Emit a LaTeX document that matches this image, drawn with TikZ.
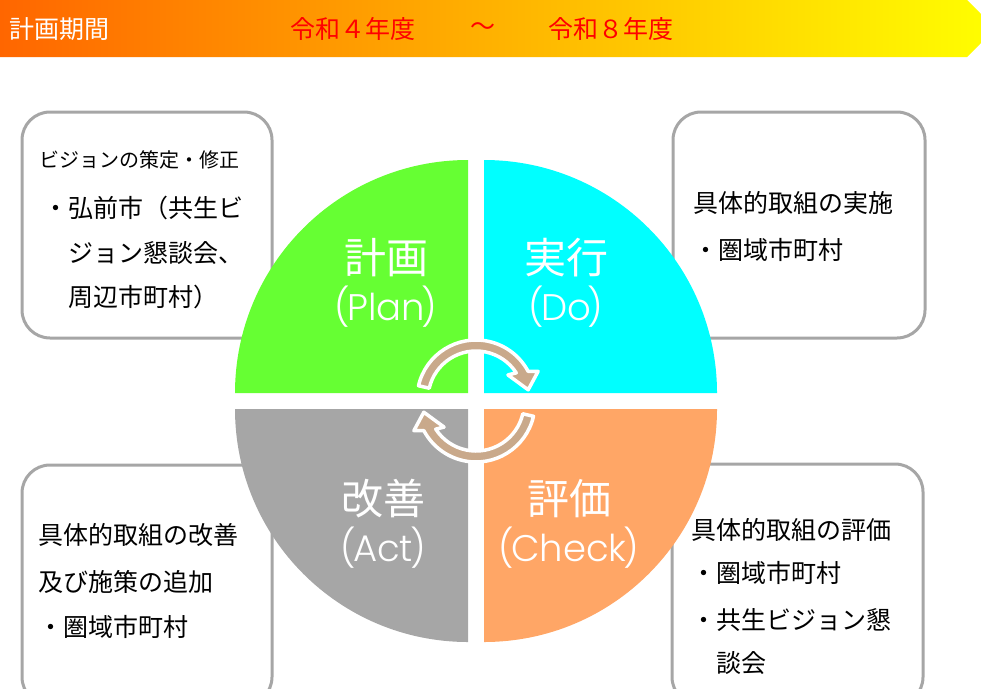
\documentclass[tikz,border=0pt]{standalone}
\usepackage{fontspec}
\newfontfamily\jp{Noto Sans CJK JP}
\newfontfamily\lat{Poppins Light}
\definecolor{qgreen}{RGB}{102,255,51}
\definecolor{qcyan}{RGB}{0,255,255}
\definecolor{qgray}{RGB}{166,166,166}
\definecolor{qorange}{RGB}{255,166,102}
\definecolor{boxline}{RGB}{166,166,166}
\definecolor{cyctan}{RGB}{201,169,139}
\definecolor{hdorange}{RGB}{255,102,0}
\definecolor{hdyellow}{RGB}{255,255,0}
\tikzset{
  infobox/.style={draw=boxline, line width=3pt, fill=white, rounded corners=28pt},
  boxtxt/.style={anchor=west, inner sep=0pt, font=\jp\fontsize{25}{30}\selectfont, text=black},
  smalltxt/.style={anchor=west, inner sep=0pt, font=\jp\fontsize{20}{24}\selectfont, text=black},
  qjp/.style={inner sep=0pt, font=\jp\fontsize{42}{46}\selectfont, text=white},
  qlat/.style={inner sep=0pt, font=\lat\fontsize{37}{40}\selectfont, text=white},
  hdtxt/.style={anchor=west, inner sep=0pt, font=\jp\fontsize{25}{28}\selectfont},
  cycarrow/.style={fill=cyctan, draw=white, line width=3.5pt, line join=round}
}
\newcommand{\pl}{(\kern-3pt}
\newcommand{\pr}{\kern-3pt)}
\begin{document}
\begin{tikzpicture}[x=1pt,y=-1pt]
\useasboundingbox (0,0) rectangle (981,688);
\begin{scope}
\clip (0,0) rectangle (981,688);
% header bar
\shade[left color=hdorange, right color=hdyellow] (0,0) -- (967,0) -- (996,28.5) -- (967,57) -- (0,57) -- cycle;
% info boxes
\draw[infobox] (22,112) rectangle (272,338);
\draw[infobox] (673,112) rectangle (925,338);
\draw[infobox] (22,465) rectangle (272,705);
\draw[infobox] (672,464) rectangle (923,705);
\end{scope}
% header text
\node[hdtxt, text=white] (hlabel) at (9,29) {計画期間};
\node[hdtxt, text=red] (hfrom) at (290,29) {令和４年度};
\node[inner sep=0pt, font=\jp\fontsize{25}{28}\selectfont, text=red] (htilde) at (483,29) {～};
\node[hdtxt, text=red] (hto) at (548,29) {令和８年度};
% quadrants
\fill[qgreen] (468,393) -- ++(180:233) arc[start angle=180, end angle=270, radius=233] -- cycle;
\fill[qcyan] (484,393) -- ++(270:233) arc[start angle=270, end angle=360, radius=233] -- cycle;
\fill[qorange] (484,409) -- ++(0:233) arc[start angle=0, end angle=90, radius=233] -- cycle;
\fill[qgray] (468,409) -- ++(90:233) arc[start angle=90, end angle=180, radius=233] -- cycle;
% quadrant labels
\node[qjp] (planjp) at (386,258) {計画};
\node[qlat] (planen) at (386,307) {\pl Plan\pr};
\node[qjp] (dojp) at (566,258) {実行};
\node[qlat] (doen) at (566,307) {\pl Do\pr};
\node[qjp] (actjp) at (383,499) {改善};
\node[qlat] (acten) at (383,548) {\pl Act\pr};
\node[qjp] (chkjp) at (569,499) {評価};
\node[qlat] (chken) at (569,548) {\pl Check\pr};
% cycle arrows
\begin{scope}[shift={(476,399)}]
\filldraw[cycarrow] (193:59) arc[start angle=193, end angle=332, radius=59] -- (336:68) -- (350:53) -- (323:40) -- (327:48) arc[start angle=327, end angle=193, radius=48] -- cycle;
\end{scope}
\begin{scope}[shift={(476,403)}, rotate=180]
\filldraw[cycarrow] (193:59) arc[start angle=193, end angle=332, radius=59] -- (336:68) -- (350:53) -- (323:40) -- (327:48) arc[start angle=327, end angle=193, radius=48] -- cycle;
\end{scope}
% box texts: top left
\node[smalltxt] (tl1) at (39,160) {ビジョンの策定・修正};
\node[boxtxt] (tl2) at (43,208) {・弘前市（共生ビ};
\node[boxtxt] (tl3) at (68,253) {ジョン懇談会、};
\node[boxtxt] (tl4) at (68,297) {周辺市町村）};
% top right
\node[boxtxt] (tr1) at (693,203) {具体的取組の実施};
\node[boxtxt] (tr2) at (693,250) {・圏域市町村};
% bottom left
\node[boxtxt] (bl1) at (38,535) {具体的取組の改善};
\node[boxtxt] (bl2) at (38,582) {及び施策の追加};
\node[boxtxt] (bl3) at (38,627) {・圏域市町村};
% bottom right
\node[boxtxt] (br1) at (691,530) {具体的取組の評価};
\node[boxtxt] (br2) at (691,573) {・圏域市町村};
\node[boxtxt] (br3) at (691,620) {・共生ビジョン懇};
\node[boxtxt] (br4) at (716,663) {談会};
\end{tikzpicture}
\end{document}
